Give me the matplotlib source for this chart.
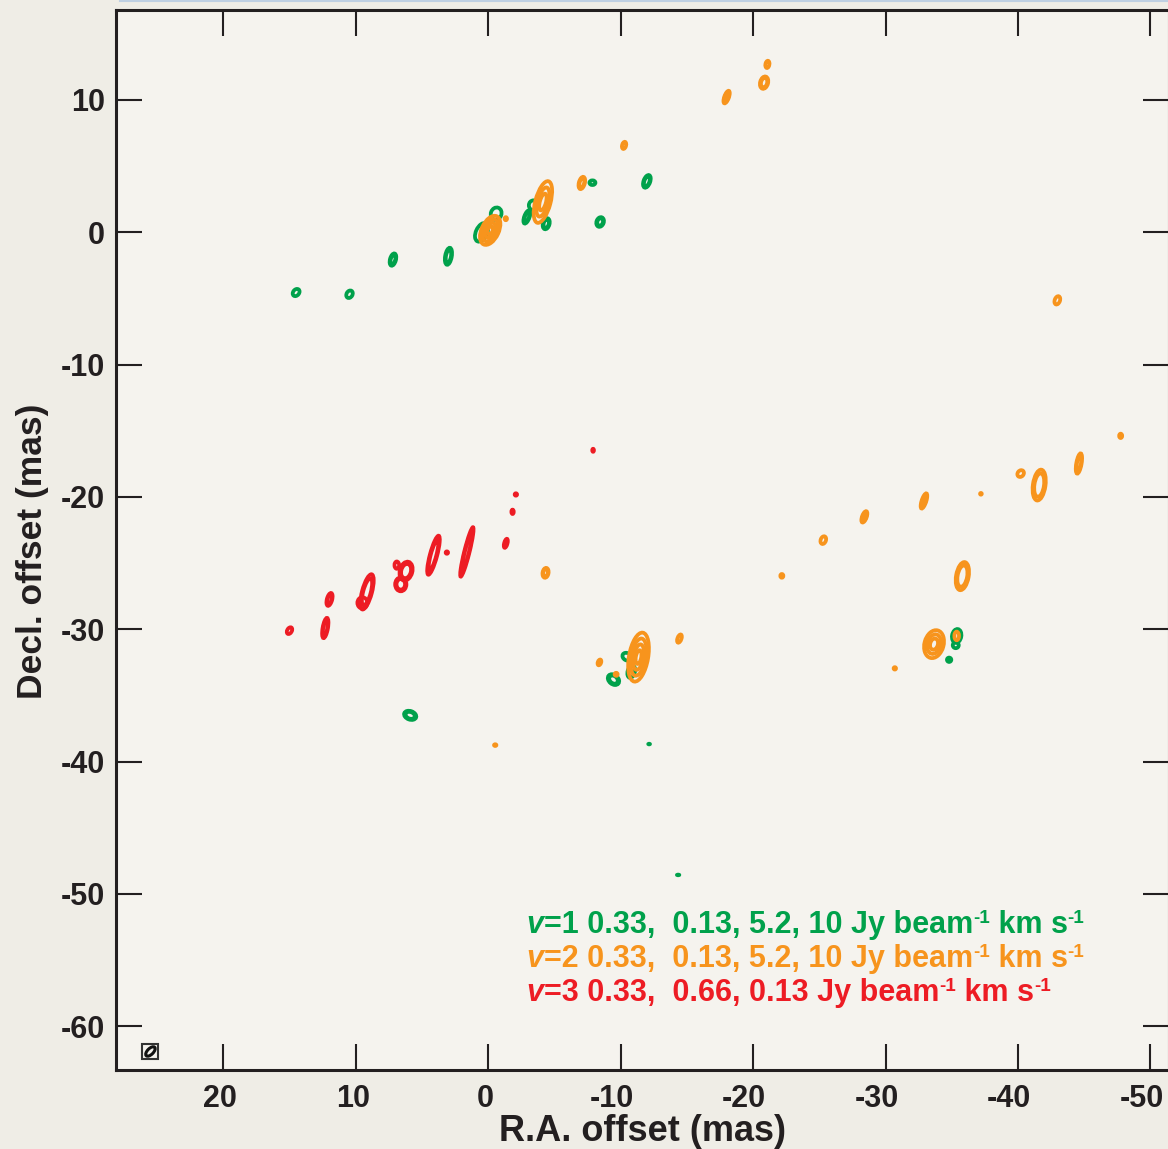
import matplotlib
matplotlib.use("Agg")
import matplotlib.pyplot as plt
from matplotlib.lines import Line2D
from matplotlib.patches import Ellipse, Rectangle
from matplotlib.transforms import ScaledTranslation

plt.rcParams["axes.unicode_minus"] = False
plt.rcParams["font.family"] = ["Liberation Sans", "DejaVu Sans"]

# SiO v=1 spots: RA offset, Dec offset (mas), x/y extent (mas), tilt (deg), contour count
v1_ra = [14.5, 10.47, 7.19, 3.0, -0.6, 0.5, -2.92, -3.42, -4.38, -7.87, -8.45, -11.98,
         -10.47, -9.46, -10.8, -35.37, -35.3, -34.8, 5.89, -12.15, -14.34]
v1_dec = [-4.55, -4.68, -2.06, -1.81, 1.41, 0.0, 1.16, 2.04, 0.65, 3.75, 0.78, 3.85,
          -32.07, -33.8, -33.2, -30.5, -31.2, -32.3, -36.5, -38.67, -48.56]
v1_w = [0.45, 0.45, 0.45, 0.5, 0.8, 0.85, 0.4, 0.7, 0.5, 0.45, 0.55, 0.5,
        0.7, 0.95, 0.55, 0.7, 0.45, 0.4, 0.95, 0.2, 0.25]
v1_h = [0.6, 0.6, 0.95, 1.3, 0.95, 1.5, 1.05, 0.75, 0.85, 0.35, 0.75, 1.0,
        0.55, 0.7, 0.95, 1.05, 0.45, 0.4, 0.65, 0.12, 0.12]
v1_pa = [40, 30, 15, 10, 20, 25, 20, 0, 15, 0, 20, 20,
         30, 40, 15, 10, 0, 0, 20, 0, 0]
v1_nlev = [1, 1, 2, 2, 1, 1, 2, 1, 2, 1, 2, 2,
           1, 2, 1, 1, 1, 1, 2, 1, 1]

# SiO v=2 spots
v2_ra = [-0.15, -1.33, -4.13, -7.07, -10.26, -21.08, -20.83, -18.0, -42.97, -4.33,
         -47.75, -44.6, -40.2, -41.6, -37.2, -32.9, -28.4, -25.3, -22.17, -35.8,
         -33.66, -35.37, -30.7, -11.35, -9.66, -8.4, -14.44, -0.53]
v2_dec = [0.15, 1.03, 2.29, 3.73, 6.57, 12.69, 11.31, 10.22, -5.14, -25.73,
          -15.38, -17.47, -18.23, -19.1, -19.76, -20.3, -21.5, -23.26, -25.96, -25.98,
          -31.12, -30.5, -32.95, -32.1, -33.4, -32.5, -30.7, -38.75]
v2_w = [1.3, 0.25, 1.15, 0.45, 0.3, 0.3, 0.6, 0.35, 0.4, 0.45,
        0.3, 0.4, 0.45, 0.95, 0.2, 0.35, 0.35, 0.4, 0.3, 0.95,
        1.45, 0.35, 0.25, 1.45, 0.3, 0.25, 0.3, 0.25]
v2_h = [2.35, 0.3, 3.25, 0.95, 0.55, 0.55, 0.95, 1.0, 0.65, 0.75,
        0.4, 1.55, 0.55, 2.35, 0.2, 1.2, 0.9, 0.6, 0.35, 2.15,
        2.15, 0.65, 0.25, 3.75, 0.3, 0.45, 0.65, 0.2]
v2_pa = [25, 0, 15, 15, 15, 10, 15, 20, 20, 10,
         0, 10, 40, 8, 0, 18, 20, 20, 0, 10,
         15, 0, 0, 10, 0, 20, 20, 0]
v2_nlev = [4, 1, 3, 2, 1, 1, 2, 2, 1, 2,
           1, 2, 1, 2, 1, 2, 2, 1, 1, 2,
           3, 1, 1, 4, 1, 1, 1, 1]

# SiO v=3 spots
v3_ra = [-2.09, -1.84, -1.33, 1.61, 3.12, 4.13, 6.2, 6.6, 6.9, 9.15, 9.5, 11.98, 12.3, 15.0, -7.92]
v3_dec = [-19.81, -21.12, -23.5, -24.15, -24.2, -24.4, -25.6, -26.6, -25.15, -27.17, -28.0,
          -27.74, -29.9, -30.1, -16.47]
v3_w = [0.25, 0.25, 0.25, 0.4, 0.25, 0.55, 0.95, 0.85, 0.35, 0.75, 0.75, 0.4, 0.4, 0.35, 0.2]
v3_h = [0.25, 0.4, 0.7, 3.85, 0.25, 3.05, 1.45, 1.05, 0.55, 2.75, 0.85, 1.0, 1.55, 0.55, 0.3]
v3_pa = [0, 0, 15, 14, 0, 15, 15, 0, 0, 15, 0, 15, 10, 30, 0]
v3_nlev = [1, 1, 1, 2, 1, 2, 2, 2, 1, 2, 1, 2, 2, 1, 1]

line_colors = ["#00a14b", "#f7941d", "#ed1c24"]
line_labels = ["=1 0.33,  0.13, 5.2, 10 Jy beam",
               "=2 0.33,  0.13, 5.2, 10 Jy beam",
               "=3 0.33,  0.66, 0.13 Jy beam"]

xticks = [20, 10, 0, -10, -20, -30, -40, -50]
yticks = [10, 0, -10, -20, -30, -40, -50, -60]

ink = "#231f20"

fig = plt.figure(figsize=(11.68, 11.49), dpi=100)
fig.patch.set_facecolor("#efede6")
ax = fig.add_axes([116 / 1168, 79 / 1149, 1053 / 1168, 1060 / 1149])
ax.set_facecolor("#f5f3ee")
fig.add_artist(Line2D([0.103, 1.0], [0.999, 0.999], transform=fig.transFigure,
                      color="#bfd0e2", lw=1.5))


def draw_spots(ra, dec, w, h, pa, nlev, color):
    for i in range(len(ra)):
        if max(w[i], h[i]) < 0.45:
            ax.add_patch(Ellipse((ra[i], dec[i]), w[i], h[i], angle=pa[i],
                                 facecolor=color, edgecolor=color, lw=2.0))
            continue
        step = 0.24 if nlev[i] != 3 else 0.3
        for k in range(nlev[i]):
            s = 1.0 - step * k
            ax.add_patch(Ellipse((ra[i], dec[i]), w[i] * s, h[i] * s, angle=pa[i],
                                 fill=False, edgecolor=color, lw=2.7))


draw_spots(v1_ra, v1_dec, v1_w, v1_h, v1_pa, v1_nlev, line_colors[0])
draw_spots(v2_ra, v2_dec, v2_w, v2_h, v2_pa, v2_nlev, line_colors[1])
draw_spots(v3_ra, v3_dec, v3_w, v3_h, v3_pa, v3_nlev, line_colors[2])

# restoring beam in the corner
ax.add_patch(Rectangle((24.9, -62.5), 1.2, 1.2, fill=False, edgecolor="#333333", lw=1.5))
ax.add_patch(Ellipse((25.5, -61.9), 0.45, 0.9, angle=45, fill=False, edgecolor="#111111", lw=2.2))

ax.set_xlim(28.1, -51.4)
ax.set_ylim(-63.3, 16.8)
ax.set_xticks(xticks)
ax.set_yticks(yticks)
ax.tick_params(direction="in", length=19, width=1.5, color=ink, top=True, right=True,
               labelsize=22, labelcolor=ink)
ax.tick_params(axis="x", pad=10)
ax.tick_params(axis="y", pad=8)
for lab in ax.get_xticklabels() + ax.get_yticklabels():
    lab.set_fontweight("bold")
# the minus sign hangs to the left of the centred digits
for val, lab in zip(xticks, ax.get_xticklabels()):
    dx = -0.09 if val < 0 else -0.03
    lab.set_transform(lab.get_transform() + ScaledTranslation(dx, 0, fig.dpi_scale_trans))
for sp in ax.spines.values():
    sp.set_linewidth(2.2)
    sp.set_color(ink)

ax.set_xlabel("R.A. offset (mas)", fontsize=26, fontweight="bold", color=ink, labelpad=0)
ax.set_ylabel("Decl. offset (mas)", fontsize=25.5, fontweight="bold", color=ink)
ax.yaxis.set_label_coords(-0.064, 0.4896)

# contour level notes, built piece by piece so the superscripts sit on the line
fs = 22
renderer = fig.canvas.get_renderer()
for i, body in enumerate(line_labels):
    c = line_colors[i]
    t = ax.text(0.39, 0.1226 - 0.0321 * i, "v", transform=ax.transAxes, color=c, fontsize=fs,
                fontweight="bold", style="italic", va="bottom", ha="left")
    t = ax.annotate(body, xy=(1, 0), xycoords=t, color=c, fontsize=fs, fontweight="bold",
                    va="bottom", ha="left")
    s = ax.annotate("-1", xy=(1, 0.42), xycoords=t, color=c, fontsize=fs * 0.62,
                    fontweight="bold", va="bottom", ha="left")
    sup_w = s.get_window_extent(renderer).width * 72 / fig.dpi
    t = ax.annotate(" km s", xy=(1, 0), xycoords=t, xytext=(sup_w, 0),
                    textcoords="offset points", color=c, fontsize=fs, fontweight="bold",
                    va="bottom", ha="left")
    ax.annotate("-1", xy=(1, 0.42), xycoords=t, color=c, fontsize=fs * 0.62,
                fontweight="bold", va="bottom", ha="left")

fig.savefig("out.png", dpi=100, facecolor=fig.get_facecolor())
